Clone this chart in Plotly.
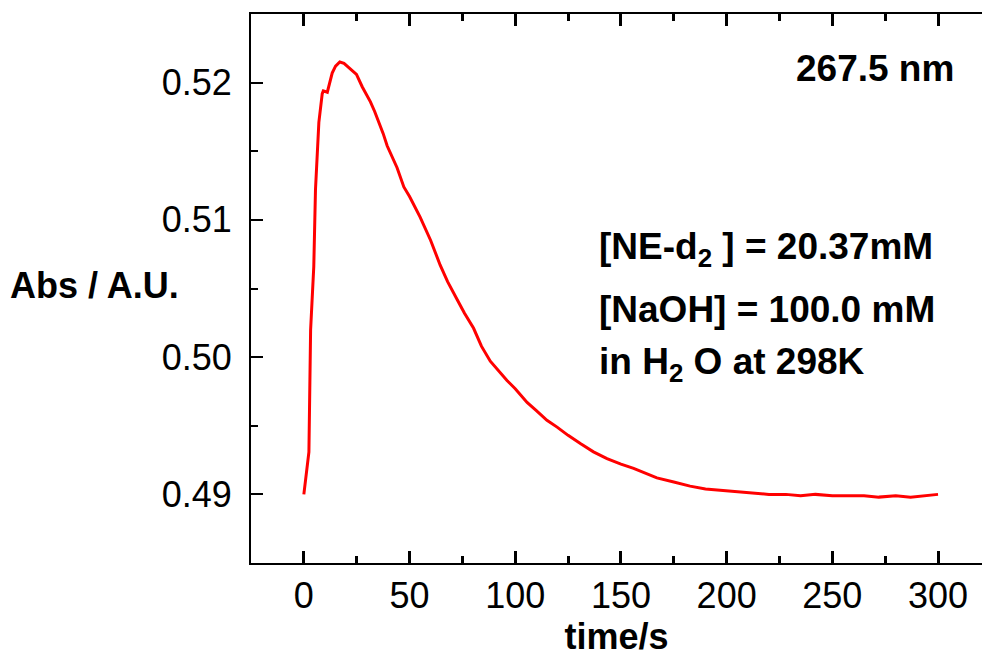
import plotly.graph_objects as go

time_s = [0, 1, 2.4, 3.2, 4.7, 5.5, 6.3, 7.1, 8.7, 9.2, 11.1, 13.4, 15, 17, 19, 20.5,
          22.5, 24.9, 27.6, 29.5, 31.5, 33.5, 35.4, 37.5, 39.4, 41.5, 44.1, 47.3, 50,
          55, 60, 64.5, 68, 72.5, 76, 80.3, 84, 88.2, 92, 96.1, 100, 105.6, 110, 115,
          119.8, 125, 130.8, 137, 143.4, 150, 156, 162, 167, 175, 182.7, 190, 198.5,
          205, 212, 220, 228, 235, 242, 250, 258, 265, 272, 280, 287, 294, 300]
absorbance = [0.4900, 0.4915, 0.4931, 0.5020, 0.5066, 0.5122, 0.5151, 0.5171, 0.5192,
              0.5194, 0.5193, 0.5207, 0.5212, 0.5215, 0.5214, 0.5212, 0.5209, 0.5206,
              0.5197, 0.5192, 0.5186, 0.5179, 0.5172, 0.5163, 0.5154, 0.5147, 0.5138,
              0.5124, 0.5117, 0.5102, 0.5085, 0.5067, 0.5055, 0.5042, 0.5032, 0.5021,
              0.5008, 0.4997, 0.4990, 0.4983, 0.4977, 0.4967, 0.4961, 0.4954, 0.4949,
              0.4943, 0.4937, 0.4931, 0.4926, 0.4922, 0.4919, 0.4915, 0.4912, 0.4909,
              0.4906, 0.4904, 0.4903, 0.4902, 0.4901, 0.4900, 0.4900, 0.4899, 0.4900,
              0.4899, 0.4899, 0.4899, 0.4898, 0.4899, 0.4898, 0.4899, 0.4900]

x_ticks = [0, 50, 100, 150, 200, 250, 300]
x_minor_ticks = [25, 75, 125, 175, 225, 275]
y_ticks = [0.49, 0.50, 0.51, 0.52]
y_minor_ticks = [0.485, 0.495, 0.505, 0.515, 0.525]
y_tick_text = ["0.49", "0.50", "0.51", "0.52"]

FONT = "Liberation Sans, Arial, sans-serif"

fig = go.Figure()
fig.add_trace(go.Scatter(x=time_s, y=absorbance, mode="lines",
                         line=dict(color="#ff0000", width=3), showlegend=False))

fig.update_layout(
    width=982, height=658,
    margin=dict(l=251, r=0, t=14, b=95),
    paper_bgcolor="white", plot_bgcolor="white",
    font=dict(family=FONT, color="black"),
    xaxis=dict(
        range=[-25, 320.8], tickmode="array", tickvals=x_ticks, ticks="inside",
        ticklen=12, tickwidth=2.5, tickcolor="black", showline=True, linewidth=2,
        linecolor="black", mirror="ticks", showgrid=False, zeroline=False,
        tickfont=dict(size=36, family=FONT),
        minor=dict(tickmode="array", tickvals=x_minor_ticks, ticks="inside", ticklen=7,
                   tickwidth=2.5, tickcolor="black", showgrid=False),
        title=dict(text="<b>time/s</b>", font=dict(size=36, family=FONT), standoff=6),
    ),
    yaxis=dict(
        range=[0.485, 0.525], tickmode="array", tickvals=y_ticks, ticktext=y_tick_text,
        ticks="inside", ticklen=12, tickwidth=2, tickcolor="black", showline=True,
        linewidth=2, linecolor="black", showgrid=False, zeroline=False,
        tickfont=dict(size=36, family=FONT), ticklabelstandoff=10,
        minor=dict(tickmode="array", tickvals=y_minor_ticks, ticks="inside", ticklen=7,
                   tickwidth=2, tickcolor="black", showgrid=False),
    ),
)

ann_font = dict(size=37, family=FONT, color="black")
fig.add_annotation(text="<b>Abs / A.U.</b>", xref="paper", yref="paper",
                   x=-0.332, y=0.505, xanchor="left", yanchor="middle", showarrow=False,
                   font=dict(size=36, family=FONT, color="black"))
fig.add_annotation(text="<b>267.5 nm</b>", xref="paper", yref="paper",
                   x=0.965, y=0.90, xanchor="right", yanchor="middle", showarrow=False,
                   font=dict(size=37, family=FONT, color="black"))
fig.add_annotation(text="<b>[NE-d<sub>2</sub> ] = 20.37mM</b>", xref="paper", yref="paper",
                   x=0.474, y=0.572, xanchor="left", yanchor="middle", showarrow=False, font=ann_font)
fig.add_annotation(text="<b>[NaOH] = 100.0 mM</b>", xref="paper", yref="paper",
                   x=0.474, y=0.461, xanchor="left", yanchor="middle", showarrow=False, font=ann_font)
fig.add_annotation(text="<b>in H<sub>2</sub> O at 298K</b>", xref="paper", yref="paper",
                   x=0.474, y=0.363, xanchor="left", yanchor="middle", showarrow=False, font=ann_font)

fig.write_html("out.html")
